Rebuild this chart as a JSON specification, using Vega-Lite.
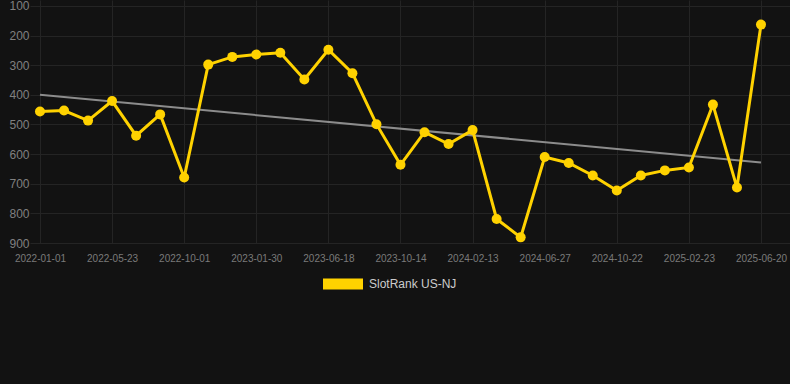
{
  "$schema": "https://vega.github.io/schema/vega-lite/v6.json",
  "width": 760,
  "height": 243,
  "autosize": {"type": "none"},
  "padding": {"left": 30, "top": 0, "right": 0, "bottom": 141},
  "background": "#121212",
  "config": {
    "view": {"stroke": null},
    "font": "Liberation Sans",
    "axis": {"gridColor": "#242424", "gridWidth": 1, "domain": false, "ticks": false, "title": null, "labelFont": "Liberation Sans", "labelOverlap": false},
    "legend": {"labelFont": "Liberation Sans"}
  },
  "datasets": {
    "rank": [
      {"date": "2022-01-01", "rank": 456, "series": "SlotRank US-NJ"},
      {"date": "2022-02-17", "rank": 453, "series": "SlotRank US-NJ"},
      {"date": "2022-04-05", "rank": 487, "series": "SlotRank US-NJ"},
      {"date": "2022-05-23", "rank": 421, "series": "SlotRank US-NJ"},
      {"date": "2022-07-05", "rank": 538, "series": "SlotRank US-NJ"},
      {"date": "2022-08-18", "rank": 466, "series": "SlotRank US-NJ"},
      {"date": "2022-10-01", "rank": 679, "series": "SlotRank US-NJ"},
      {"date": "2022-11-10", "rank": 298, "series": "SlotRank US-NJ"},
      {"date": "2022-12-20", "rank": 272, "series": "SlotRank US-NJ"},
      {"date": "2023-01-30", "rank": 264, "series": "SlotRank US-NJ"},
      {"date": "2023-03-17", "rank": 258, "series": "SlotRank US-NJ"},
      {"date": "2023-05-02", "rank": 348, "series": "SlotRank US-NJ"},
      {"date": "2023-06-18", "rank": 248, "series": "SlotRank US-NJ"},
      {"date": "2023-07-28", "rank": 327, "series": "SlotRank US-NJ"},
      {"date": "2023-09-05", "rank": 499, "series": "SlotRank US-NJ"},
      {"date": "2023-10-14", "rank": 636, "series": "SlotRank US-NJ"},
      {"date": "2023-11-23", "rank": 526, "series": "SlotRank US-NJ"},
      {"date": "2024-01-03", "rank": 566, "series": "SlotRank US-NJ"},
      {"date": "2024-02-13", "rank": 519, "series": "SlotRank US-NJ"},
      {"date": "2024-03-29", "rank": 819, "series": "SlotRank US-NJ"},
      {"date": "2024-05-13", "rank": 881, "series": "SlotRank US-NJ"},
      {"date": "2024-06-27", "rank": 610, "series": "SlotRank US-NJ"},
      {"date": "2024-08-05", "rank": 630, "series": "SlotRank US-NJ"},
      {"date": "2024-09-13", "rank": 672, "series": "SlotRank US-NJ"},
      {"date": "2024-10-22", "rank": 723, "series": "SlotRank US-NJ"},
      {"date": "2024-12-02", "rank": 672, "series": "SlotRank US-NJ"},
      {"date": "2025-01-12", "rank": 655, "series": "SlotRank US-NJ"},
      {"date": "2025-02-23", "rank": 645, "series": "SlotRank US-NJ"},
      {"date": "2025-04-01", "rank": 433, "series": "SlotRank US-NJ"},
      {"date": "2025-05-11", "rank": 713, "series": "SlotRank US-NJ"},
      {"date": "2025-06-20", "rank": 163, "series": "SlotRank US-NJ"}
    ],
    "trend": [
      {"date": "2022-01-01", "trend": 400},
      {"date": "2025-06-20", "trend": 628}
    ]
  },
  "encoding": {
    "x": {
      "field": "date",
      "type": "ordinal",
      "scale": {"type": "point", "padding": 0.811, "align": 0.256},
      "axis": {
        "values": ["2022-01-01", "2022-05-23", "2022-10-01", "2023-01-30", "2023-06-18", "2023-10-14", "2024-02-13", "2024-06-27", "2024-10-22", "2025-02-23", "2025-06-20"],
        "labelAngle": 0,
        "labelOverlap": false,
        "labelFontSize": 10,
        "labelColor": "#7a7a7a",
        "labelPadding": 10,
        "grid": true
      }
    }
  },
  "layer": [
    {
      "data": {"name": "trend"},
      "mark": {"type": "line", "color": "#8c8c8c", "strokeWidth": 2},
      "encoding": {
        "y": {
          "field": "trend",
          "type": "quantitative",
          "scale": {"domain": [80, 900], "reverse": true, "nice": false, "zero": false},
          "axis": {
            "values": [100, 200, 300, 400, 500, 600, 700, 800, 900],
            "tickCount": 20,
            "labelOverlap": false,
            "labelFontSize": 12,
            "labelColor": "#808080",
            "labelPadding": 1,
            "grid": true
          }
        }
      }
    },
    {
      "data": {"name": "rank"},
      "mark": {"type": "line", "color": "#ffd200", "strokeWidth": 3},
      "encoding": {
        "y": {"field": "rank", "type": "quantitative"}
      }
    },
    {
      "data": {"name": "rank"},
      "mark": {"type": "point", "filled": true, "size": 100, "opacity": 1},
      "encoding": {
        "y": {"field": "rank", "type": "quantitative"},
        "color": {
          "field": "series",
          "type": "nominal",
          "scale": {"domain": ["SlotRank US-NJ"], "range": ["#ffd200"]},
          "legend": {
            "orient": "none",
            "legendX": 293,
            "legendY": 264,
            "title": null,
            "symbolType": "M-1,-0.28H1V0.28H-1Z",
            "symbolSize": 1600,
            "symbolStrokeWidth": 0,
            "labelFontSize": 12,
            "labelColor": "#cccccc",
            "labelOffset": 6
          }
        }
      }
    }
  ]
}
